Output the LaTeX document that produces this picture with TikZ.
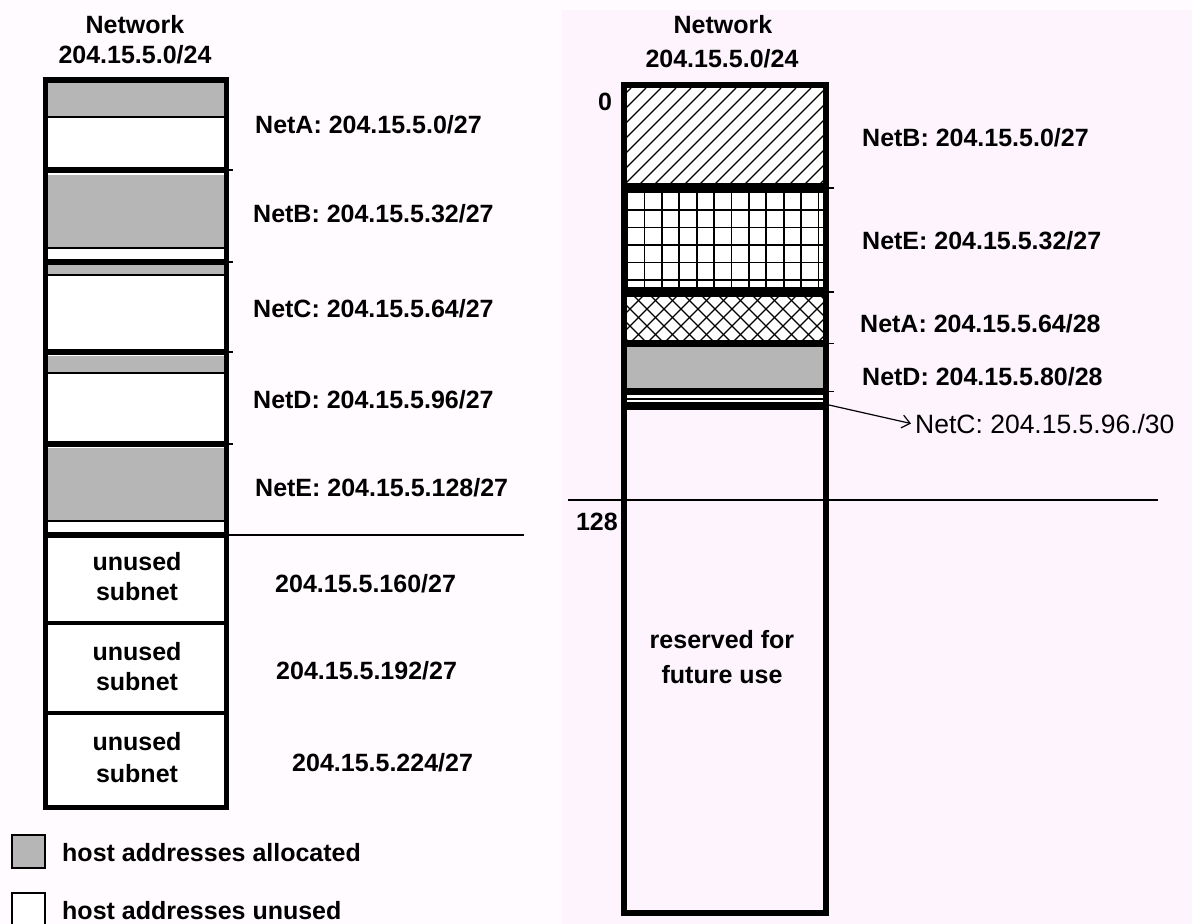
\documentclass[tikz,border=0pt]{standalone}
\usepackage{fontspec}
\setmainfont{Liberation Sans}
\usetikzlibrary{arrows.meta}
\definecolor{bgpink}{RGB}{253,244,253}
\definecolor{bgwhite}{RGB}{255,251,254}
\definecolor{alloc}{RGB}{182,182,182}
\begin{document}
\begin{tikzpicture}[x=1pt,y=-1pt,
  lbl/.style={font=\fontsize{25}{30}\selectfont\bfseries, inner sep=0pt},
  lblreg/.style={font=\fontsize{26.5}{30}\selectfont, inner sep=0pt},
  sepline/.style={line width=6pt},
  thinline/.style={line width=1.5pt},
  tick/.style={line width=1.5pt}]
\useasboundingbox (0,0) rectangle (1192,924);
\fill[bgwhite] (0,0) rectangle (1192,924);
\fill[bgpink] (562,10) rectangle (1192,924);

% ---------------- left column ----------------
\fill[white] (45,80) rectangle (226,807);
\foreach \a/\b in {83/117,175/248,265/275,356/373,448/521}
  \fill[alloc] (45,\a) rectangle (226,\b);
\foreach \y in {117,248,275,373,521}
  \draw[thinline] (45,\y) -- (226,\y);
\foreach \y in {170,262,352,444,535}
  {\draw[sepline] (45,\y) -- (226,\y);
   \draw[tick] (226,\y) -- (233,\y);}
\foreach \y in {623,713}
  \draw[line width=4.5pt] (45,\y) -- (226,\y);
\draw[line width=5pt] (45,80) rectangle (226,807);
\draw[line width=6pt] (42.5,80) -- (228.5,80);
\draw[thinline] (226,535) -- (524,535);

\node[lbl,anchor=base] (lh1) at (135,33) {Network};
\node[lbl,anchor=base] (lh2) at (135,63) {204.15.5.0/24};

\node[lbl,anchor=base west] (la) at (255,133) {NetA: 204.15.5.0/27};
\node[lbl,anchor=base west] (lb) at (253,222) {NetB: 204.15.5.32/27};
\node[lbl,anchor=base west] (lc) at (253,317) {NetC: 204.15.5.64/27};
\node[lbl,anchor=base west] (ld) at (253,408) {NetD: 204.15.5.96/27};
\node[lbl,anchor=base west] (le) at (255,496) {NetE: 204.15.5.128/27};
\node[lbl,anchor=base west] (l160) at (275,592) {204.15.5.160/27};
\node[lbl,anchor=base west] (l192) at (276,679) {204.15.5.192/27};
\node[lbl,anchor=base west] (l224) at (292,771) {204.15.5.224/27};

\node[lbl,anchor=base] (u1a) at (137,570) {unused};
\node[lbl,anchor=base] (u1b) at (137,600) {subnet};
\node[lbl,anchor=base] (u2a) at (137,660) {unused};
\node[lbl,anchor=base] (u2b) at (137,690) {subnet};
\node[lbl,anchor=base] (u3a) at (137,750) {unused};
\node[lbl,anchor=base] (u3b) at (137,782) {subnet};

% legend
\fill[alloc] (12,835) rectangle (45,868);
\draw[line width=2pt] (12,835) rectangle (45,868);
\fill[white] (12,893) rectangle (45,926);
\draw[line width=2pt] (12,893) rectangle (45,926);
\node[lbl,anchor=base west] (lg1) at (62,861) {host addresses allocated};
\node[lbl,anchor=base west] (lg2) at (62,919) {host addresses unused};

% ---------------- right column ----------------
\fill[white] (624,85) rectangle (826,402);
% NetB hatch
\begin{scope}
  \clip (624,88) rectangle (826,184);
  \foreach \x in {520,535,...,850}
    \draw[line width=1.2pt] (\x,184) -- ++(96,-96);
\end{scope}
% NetE grid
\begin{scope}
  \clip (624,193) rectangle (826,288);
  \foreach \k in {0,...,11}
    \draw[line width=1.8pt] ({627+17.4*\k},190) -- ++(0,100);
  \foreach \k in {1,...,5}
    \draw[line width=1.8pt] (620,{192.5+17.5*\k}) -- ++(210,0);
\end{scope}
% NetA crosshatch
\begin{scope}
  \clip (624,297) rectangle (826,340);
  \foreach \x in {560,577,...,850}
    {\draw[line width=1.2pt] (\x,345) -- ++(55,-55);
     \draw[line width=1.2pt] (\x,290) -- ++(55,55);}
\end{scope}
% NetD dotted
\fill[alloc] (624,347) rectangle (826,388);
\draw[thinline] (624,399) -- (826,399);

\draw[line width=10pt] (624,188) -- (826,188);
\draw[line width=10pt] (624,292) -- (826,292);
\draw[line width=7pt] (624,343.5) -- (826,343.5);
\draw[line width=7pt] (624,391.5) -- (826,391.5);
\draw[line width=8pt] (624,406) -- (826,406);
\foreach \y in {188,292,343.5,391.5}
  \draw[tick] (826,\y) -- (834,\y);
\draw[line width=6pt] (624,85) rectangle (826,913);
\draw[thinline] (568,500) -- (1158,500);

\node[lbl,anchor=base] (rh1) at (723,33) {Network};
\node[lbl,anchor=base] (rh2) at (722,67) {204.15.5.0/24};
\node[lbl,anchor=base] (r0) at (605,110) {0};
\node[lbl,anchor=base east] (r128) at (618,530) {128};

\node[lbl,anchor=base west] (rb) at (862,146) {NetB: 204.15.5.0/27};
\node[lbl,anchor=base west] (re) at (862,249) {NetE: 204.15.5.32/27};
\node[lbl,anchor=base west] (ra) at (860,332) {NetA: 204.15.5.64/28};
\node[lbl,anchor=base west] (rd) at (862,385) {NetD: 204.15.5.80/28};
\node[lblreg,anchor=base west] (rc) at (915,433) {NetC: 204.15.5.96./30};

\node[lbl,anchor=base] (res1) at (722,648) {reserved for};
\node[lbl,anchor=base] (res2) at (722,683) {future use};

\coordinate (cstrip) at (829,405);
\draw[line width=1.2pt,-{Straight Barb[length=8pt,width=13pt]}] (cstrip) -- ([xshift=-4pt]rc.west);
\end{tikzpicture}
\end{document}
